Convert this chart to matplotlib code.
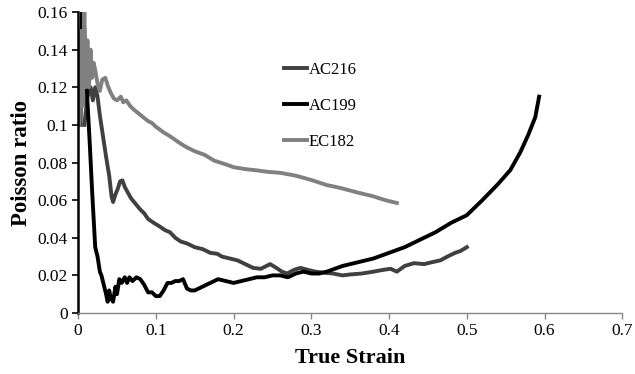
import matplotlib
matplotlib.use("Agg")
import matplotlib.pyplot as plt

# 読み取った値 (True Strain, Poisson ratio)
ac216_x = [0.008, 0.012, 0.016, 0.019, 0.022, 0.025, 0.028, 0.032, 0.036, 0.040,
           0.043, 0.045, 0.048, 0.051, 0.054, 0.057, 0.060, 0.064, 0.068, 0.072,
           0.076, 0.080, 0.085, 0.090, 0.097, 0.105, 0.112, 0.118, 0.125, 0.132,
           0.140, 0.150, 0.160, 0.170, 0.179, 0.185, 0.195, 0.205, 0.215, 0.225,
           0.235, 0.247, 0.255, 0.262, 0.269, 0.278, 0.286, 0.295, 0.305, 0.315,
           0.328, 0.340, 0.350, 0.365, 0.380, 0.393, 0.402, 0.410, 0.420, 0.432,
           0.445, 0.455, 0.466, 0.475, 0.485, 0.492, 0.500]
ac216_y = [0.100, 0.115, 0.120, 0.113, 0.120, 0.115, 0.105, 0.094, 0.083, 0.073,
           0.062, 0.059, 0.063, 0.066, 0.070, 0.0705, 0.067, 0.064, 0.061, 0.059,
           0.057, 0.055, 0.053, 0.050, 0.048, 0.046, 0.044, 0.043, 0.040, 0.038,
           0.037, 0.035, 0.034, 0.032, 0.0315, 0.030, 0.029, 0.028, 0.026, 0.024,
           0.0235, 0.026, 0.024, 0.022, 0.021, 0.023, 0.024, 0.023, 0.022, 0.0215,
           0.021, 0.020, 0.0205, 0.021, 0.022, 0.023, 0.0235, 0.022, 0.025, 0.0265,
           0.026, 0.027, 0.028, 0.030, 0.032, 0.033, 0.035]

ac199_x = [0.003, 0.005, 0.007, 0.009, 0.011, 0.013, 0.015, 0.018, 0.020, 0.022,
           0.025, 0.028, 0.030, 0.033, 0.036, 0.038, 0.040, 0.042, 0.045, 0.048,
           0.050, 0.053, 0.056, 0.060, 0.063, 0.066, 0.070, 0.075, 0.080, 0.085,
           0.090, 0.095, 0.100, 0.105, 0.110, 0.115, 0.120, 0.125, 0.130, 0.135,
           0.140, 0.145, 0.150, 0.155, 0.160, 0.170, 0.180, 0.190, 0.200, 0.210,
           0.220, 0.230, 0.240, 0.250, 0.260, 0.270, 0.280, 0.290, 0.300, 0.310,
           0.320, 0.340, 0.360, 0.380, 0.400, 0.420, 0.440, 0.460, 0.480, 0.500,
           0.520, 0.540, 0.556, 0.569, 0.579, 0.588, 0.593]
ac199_y = [0.100, 0.160, 0.160, 0.140, 0.120, 0.105, 0.090, 0.065, 0.050, 0.035,
           0.030, 0.022, 0.020, 0.015, 0.010, 0.006, 0.012, 0.008, 0.006, 0.014,
           0.010, 0.018, 0.016, 0.019, 0.016, 0.019, 0.017, 0.019, 0.018, 0.015,
           0.011, 0.011, 0.009, 0.009, 0.012, 0.016, 0.016, 0.017, 0.017, 0.018,
           0.013, 0.012, 0.012, 0.013, 0.014, 0.016, 0.018, 0.017, 0.016, 0.017,
           0.018, 0.019, 0.019, 0.020, 0.020, 0.019, 0.021, 0.022, 0.021, 0.021,
           0.022, 0.025, 0.027, 0.029, 0.032, 0.035, 0.039, 0.043, 0.048, 0.052,
           0.060, 0.0685, 0.076, 0.0856, 0.0947, 0.104, 0.115]

ec182_x = [0.002, 0.004, 0.006, 0.008, 0.010, 0.012, 0.014, 0.016, 0.018, 0.020,
           0.022, 0.025, 0.028, 0.031, 0.035, 0.038, 0.042, 0.046, 0.050, 0.055,
           0.058, 0.062, 0.067, 0.072, 0.078, 0.084, 0.090, 0.095, 0.100, 0.110,
           0.118, 0.125, 0.132, 0.140, 0.150, 0.163, 0.175, 0.190, 0.200, 0.215,
           0.230, 0.245, 0.260, 0.280, 0.300, 0.320, 0.337, 0.360, 0.380, 0.395,
           0.410]
ec182_y = [0.100, 0.150, 0.110, 0.160, 0.120, 0.145, 0.120, 0.140, 0.125, 0.133,
           0.129, 0.122, 0.118, 0.124, 0.125, 0.121, 0.117, 0.114, 0.113, 0.115,
           0.112, 0.113, 0.110, 0.108, 0.106, 0.104, 0.102, 0.101, 0.099, 0.096,
           0.094, 0.092, 0.090, 0.088, 0.086, 0.084, 0.081, 0.079, 0.0775, 0.0765,
           0.0758, 0.075, 0.0745, 0.073, 0.0707, 0.068, 0.0665, 0.064, 0.062, 0.060,
           0.0585]

x_ticks = [0, 0.1, 0.2, 0.3, 0.4, 0.5, 0.6, 0.7]
x_labels = ["0", "0.1", "0.2", "0.3", "0.4", "0.5", "0.6", "0.7"]
y_ticks = [0, 0.02, 0.04, 0.06, 0.08, 0.1, 0.12, 0.14, 0.16]
y_labels = ["0", "0.02", "0.04", "0.06", "0.08", "0.1", "0.12", "0.14", "0.16"]

plt.rcParams["font.family"] = ["Liberation Serif", "DejaVu Serif"]

fig = plt.figure(figsize=(6.35, 3.74), dpi=100)
ax = fig.add_axes([0.123, 0.163, 0.857, 0.805])

ax.plot(ac216_x, ac216_y, color="#404040", lw=2.8, label="AC216")
ax.plot(ac199_x, ac199_y, color="black", lw=2.8, label="AC199")
ax.plot(ec182_x, ec182_y, color="#808080", lw=2.8, label="EC182")

ax.set_xlim(0, 0.7)
ax.set_ylim(0, 0.16)
ax.set_xticks(x_ticks)
ax.set_xticklabels(x_labels)
ax.set_yticks(y_ticks)
ax.set_yticklabels(y_labels)
ax.tick_params(axis="both", labelsize=12.5, length=4)
ax.tick_params(axis="x", color="#888888", width=1)
ax.tick_params(axis="y", color="black", width=1.2)

for side in ["top", "right"]:
    ax.spines[side].set_visible(False)
ax.spines["left"].set_color("black")
ax.spines["left"].set_linewidth(1.8)
ax.spines["bottom"].set_color("#888888")
ax.spines["bottom"].set_linewidth(1)

ax.set_xlabel("True Strain", fontsize=16, fontweight="bold", labelpad=6)
ax.set_ylabel("Poisson ratio", fontsize=16.5, fontweight="bold", labelpad=4)

ax.legend(loc="upper left", bbox_to_anchor=(0.35, 0.885), frameon=False,
          fontsize=12, handlelength=1.4, handletextpad=0.1, labelspacing=1.2)

fig.savefig("out.png", dpi=100)
plt.close(fig)
